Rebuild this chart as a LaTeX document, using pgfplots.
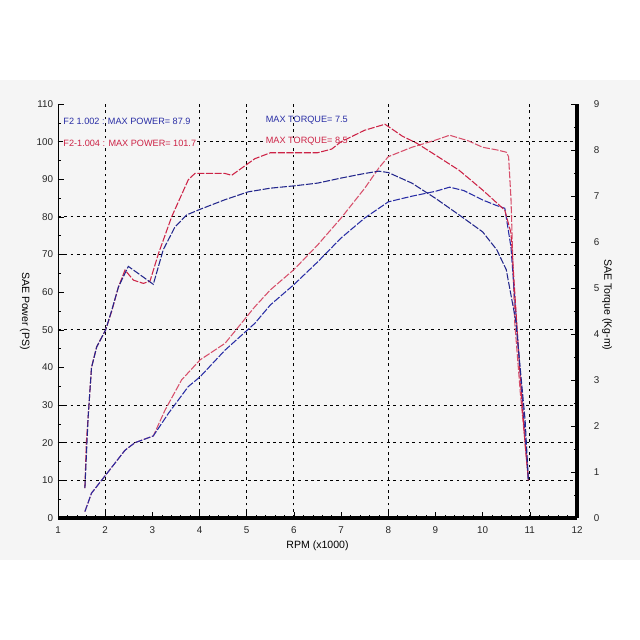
\documentclass[border=0pt]{standalone}
\usepackage{pgfplots}
\pgfplotsset{compat=1.18}
\usepackage{pgfplotstable}
\usepackage{fontspec}
\setmainfont{Liberation Sans}
\definecolor{dynblue}{RGB}{40,45,165}
\definecolor{dynred}{RGB}{205,35,70}
\definecolor{bgc}{RGB}{245,245,245}

% Power (PS) vs rpm (x1000)
\pgfplotstableread{
rpm pw
1.57 1.7
1.71 6.6
2.01 11.4
2.42 18
2.63 20
3.02 21.8
3.27 28.7
3.62 36.7
4.01 42
4.54 46.4
5.17 56.1
5.5 60.6
6.0 66
6.5 72.5
7.0 79.7
7.5 87.6
7.8 93
8.0 96
8.5 98.5
9.0 100.4
9.3 101.7
9.7 100.2
10.0 98.5
10.3 97.8
10.5 97.2
10.55 96
10.6 85
10.68 52
10.8 33
10.9 20
10.97 10
}\redpower
\pgfplotstableread{
rpm pw
1.57 1.7
1.71 6.6
2.01 11.4
2.42 18
2.63 20
3.02 21.8
3.34 27.8
3.76 34.9
4.01 37.5
4.54 44.6
5.17 51.7
5.5 56.6
6.0 62
6.5 68
7.0 74.4
7.5 79.7
8.0 84
8.5 85.5
9.0 86.8
9.3 87.9
9.6 87
10.0 84.5
10.3 83
10.47 82.3
10.6 72
10.7 55
10.8 38
10.9 22
10.97 10
}\bluepower
% Torque (kg-m) vs rpm (x1000)
\pgfplotstableread{
rpm tq
1.57 0.65
1.60 1.64
1.64 2.21
1.71 3.27
1.82 3.72
2.01 4.09
2.14 4.50
2.28 5.02
2.42 5.39
2.60 5.17
2.81 5.10
2.95 5.15
3.13 5.75
3.41 6.55
3.76 7.35
3.90 7.49
4.54 7.49
4.68 7.45
5.17 7.81
5.5 7.94
6.0 7.94
6.5 7.94
6.8 8.02
7.0 8.18
7.5 8.43
7.93 8.56
8.3 8.30
8.6 8.15
9.0 7.89
9.5 7.56
10.0 7.13
10.3 6.85
10.47 6.69
10.6 6.2
10.7 4.6
10.8 3.0
10.9 1.6
10.97 0.82
}\redtorque
\pgfplotstableread{
rpm tq
1.57 0.65
1.64 2.21
1.71 3.27
1.82 3.72
2.01 4.09
2.14 4.52
2.28 5.02
2.49 5.47
2.75 5.28
3.02 5.08
3.23 5.83
3.48 6.33
3.73 6.59
4.01 6.71
4.54 6.92
5.03 7.09
5.5 7.17
6.0 7.22
6.5 7.28
7.0 7.39
7.5 7.49
7.8 7.54
8.0 7.51
8.5 7.28
9.0 6.95
9.5 6.59
10.0 6.22
10.3 5.83
10.5 5.40
10.7 4.30
10.9 2.13
10.97 0.82
}\bluetorque

\pgfplotsset{
  dyn/.style={
    scale only axis, width=12.975cm, height=10.35cm,
    at={(1.45cm,3.05cm)}, anchor=south west,
    xmin=1, xmax=12,
    tick label style={font=\fontsize{7}{8}\selectfont, text=black!85},
    /pgf/number format/assume math mode=true,
    major tick length=4pt, minor tick length=2pt,
    tick style={black, thin},
    clip=false,
  },
  curve/.style={line width=0.75pt, dash pattern=on 5pt off 1.2pt},
}

\begin{document}
\begin{tikzpicture}
\useasboundingbox (0,0) rectangle (16cm,16cm);
\fill[bgc] (0,2cm) rectangle (16cm,14cm);

\begin{axis}[dyn,
  ymin=0, ymax=110,
  axis x line*=bottom, axis y line*=left,
  x axis line style={line width=3pt, -},
  y axis line style={thin, -},
  xtick={1,...,12}, ytick={0,10,...,110},
  xticklabel style={yshift=-0.1cm},
  minor x tick num=4, minor y tick num=1,
  extra x ticks={2,4,5,6,8,11}, extra x tick labels={},
  extra x tick style={grid=major, major grid style={black, line width=0.8pt, dash pattern=on 2pt off 2.5pt}},
  extra y ticks={10,20,30,50,70,80,100}, extra y tick labels={},
  extra y tick style={grid=major, major grid style={black, line width=0.8pt, dash pattern=on 2pt off 2.5pt}},
  xlabel={RPM (x1000)},
  xlabel style={font=\fontsize{7.5}{9}\selectfont, at={(axis description cs:0.5,-0.068)}, anchor=center},
  ylabel={SAE Power (PS)},
  every axis y label/.style={at={(axis description cs:-0.064,0.5)}, rotate=-90, anchor=center, font=\fontsize{7.5}{9}\selectfont},
]
\addplot[curve, dynred!80] table[x=rpm, y=pw] {\redpower};
\addplot[curve, dynblue] table[x=rpm, y=pw] {\bluepower};
\node[anchor=west, text=dynblue, font=\fontsize{6.5}{7}\selectfont, inner sep=0pt] at (axis description cs:0.01,0.957) {F2 1.002 : MAX POWER= 87.9};
\node[anchor=west, text=dynred, font=\fontsize{6.5}{7}\selectfont, inner sep=0pt, fill=bgc] at (axis description cs:0.01,0.904) {F2-1.004 : MAX POWER= 101.7};
\node[anchor=west, text=dynblue, font=\fontsize{6.5}{7}\selectfont, inner sep=0pt] at (axis description cs:0.4,0.962) {MAX TORQUE= 7.5};
\node[anchor=west, text=dynred, font=\fontsize{6.5}{7}\selectfont, inner sep=0pt, fill=bgc] at (axis description cs:0.4,0.909) {MAX TORQUE= 8.5};
\end{axis}

\begin{axis}[dyn,
  ymin=0, ymax=9,
  axis x line=none, axis y line*=right,
  y axis line style={line width=3pt, -},
  ytick={0,...,9}, minor y tick num=1,
  yticklabel style={xshift=0.3cm},
  ylabel={SAE Torque (Kg-m)},
  every axis y label/.style={at={(axis description cs:1.058,0.515)}, rotate=-90, anchor=center, font=\fontsize{7.5}{9}\selectfont},
]
\addplot[curve, dynred] table[x=rpm, y=tq] {\redtorque};
\addplot[curve, dynblue!85!black] table[x=rpm, y=tq] {\bluetorque};
\end{axis}
\end{tikzpicture}
\end{document}
